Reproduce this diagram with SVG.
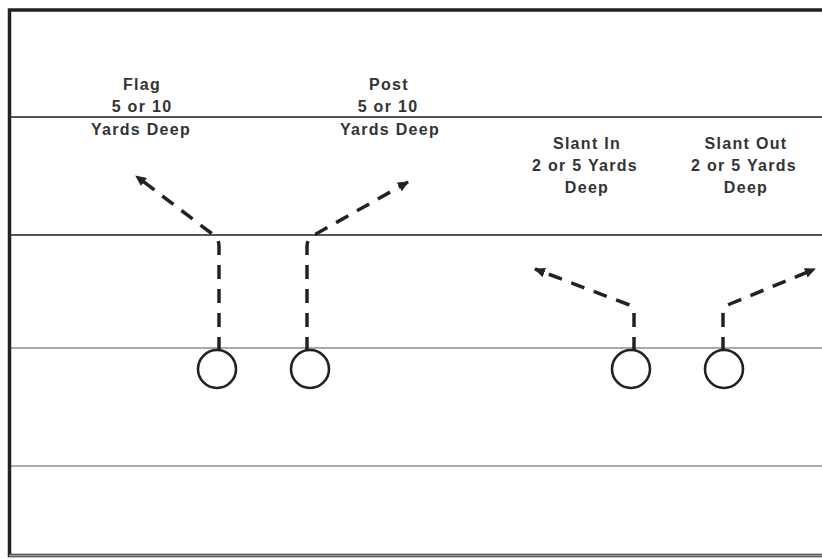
<svg xmlns="http://www.w3.org/2000/svg" width="822" height="559" viewBox="0 0 822 559">
  <style>
    .frame { stroke: #222; stroke-width: 3.5; fill: none; }
    .yard { stroke: #555; stroke-width: 2; fill: none; }
    .hash { stroke: #aaa; stroke-width: 2; fill: none; }
    .route { stroke: #222; stroke-width: 3.5; fill: none; stroke-dasharray: 14 10; }
    .player { stroke: #222; stroke-width: 2.6; fill: #fff; }
    .label { font-family: "Liberation Sans", Arial, sans-serif; font-size: 16px; font-weight: bold; fill: #333; text-anchor: middle; letter-spacing: 1.3px; }
  </style>
  <defs>
    <marker id="arrow" markerUnits="userSpaceOnUse" markerWidth="12" markerHeight="10" refX="10" refY="5" orient="auto">
      <path d="M0,0 L11,5 L0,10 Z" fill="#222"/>
    </marker>
  </defs>

  <rect width="822" height="559" fill="#fff"/>

  <!-- field lines -->
  <g id="field">
    <line class="yard" x1="9" y1="117" x2="822" y2="117"/>
    <line class="yard" x1="9" y1="235" x2="822" y2="235"/>
    <line class="hash" x1="9" y1="348" x2="822" y2="348"/>
    <line class="hash" x1="9" y1="466" x2="822" y2="466"/>
    <path class="frame" d="M822,10 H9.5 V555.5 H822"/>
    <line x1="9" y1="555.5" x2="822" y2="555.5" stroke="#999" stroke-width="2"/>
  </g>

  <!-- routes -->
  <g id="connectors">
    <path class="route" marker-end="url(#arrow)" d="M219,351 V246 Q219,238 211,233 L136,176"/>
    <path class="route" marker-end="url(#arrow)" d="M307,351 V246 Q307,238 316,234 L408,182"/>
    <path class="route" marker-end="url(#arrow)" d="M634,351 V312 Q634,306 627,304 L535,269"/>
    <path class="route" marker-end="url(#arrow)" d="M723,351 V314 Q723,307 730,304 L815,269"/>
  </g>

  <!-- receivers -->
  <g id="flag">
    <circle class="player" cx="217" cy="369" r="19"/>
    <text class="label" x="142" y="90">Flag</text>
    <text class="label" x="142" y="112">5 or 10</text>
    <text class="label" x="141" y="135">Yards Deep</text>
  </g>
  <g id="post">
    <circle class="player" cx="310" cy="369" r="19"/>
    <text class="label" x="389" y="90">Post</text>
    <text class="label" x="388" y="112">5 or 10</text>
    <text class="label" x="390" y="135">Yards Deep</text>
  </g>
  <g id="slant-in">
    <circle class="player" cx="631" cy="369" r="19"/>
    <text class="label" x="587" y="149">Slant In</text>
    <text class="label" x="585" y="171">2 or 5 Yards</text>
    <text class="label" x="587" y="193">Deep</text>
  </g>
  <g id="slant-out">
    <circle class="player" cx="724" cy="369" r="19"/>
    <text class="label" x="746" y="149">Slant Out</text>
    <text class="label" x="744" y="171">2 or 5 Yards</text>
    <text class="label" x="746" y="193">Deep</text>
  </g>
</svg>
